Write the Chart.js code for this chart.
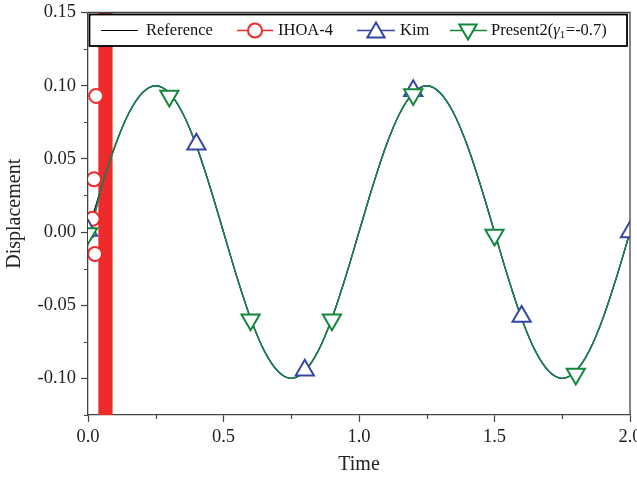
<!DOCTYPE html>
<html>
<head>
<meta charset="utf-8">
<script src="https://cdn.jsdelivr.net/npm/chart.js@4/dist/chart.umd.min.js"></script>
<style>
html,body{margin:0;padding:0;background:#fff;overflow:hidden;width:637px;height:477px;}
#wrap{position:absolute;left:0;top:0;width:650px;height:477px;}
</style>
</head>
<body>
<div id="wrap"><canvas id="c" width="650" height="477"></canvas></div>
<script>
// ---- data ----
const refTime = [0,0.05,0.10,0.15,0.20,0.25,0.30,0.35,0.40,0.45,0.50,0.55,0.60,0.65,0.70,0.75,0.80,0.85,0.90,0.95,
                 1.00,1.05,1.10,1.15,1.20,1.25,1.30,1.35,1.40,1.45,1.50,1.55,1.60,1.65,1.70,1.75,1.80,1.85,1.90,1.95,2.00];
const refDisp = [0,0.031,0.059,0.081,0.095,0.100,0.095,0.081,0.059,0.031,0,-0.031,-0.059,-0.081,-0.095,-0.100,-0.095,-0.081,-0.059,-0.031,
                 0,0.031,0.059,0.081,0.095,0.100,0.095,0.081,0.059,0.031,0,-0.031,-0.059,-0.081,-0.095,-0.100,-0.095,-0.081,-0.059,-0.031,0];

// start-up wiggles of the two methods
const kimStartTime = [0, 0.020, 0.004];
const kimStartDisp = [0.003, -0.004, 0.0025];
const presStartTime = [0, 0.030, 0.003];
const presStartDisp = [-0.006, 0.001, 0.002];

// markers
const ihoaMarkTime = [0.017, 0.022, 0.026, 0.030];
const ihoaMarkDisp = [0.009, 0.036, -0.015, 0.093];
// IHOA-4 diverging oscillation (values far outside the axis)
const ihoaBandTime = [0.040,0.0425,0.045,0.0475,0.050,0.0525,0.055,0.0575,0.060,0.0625,0.065,0.0675,0.070,0.0725,0.075,0.0775,0.080,0.0825,0.085,0.0875];
const ihoaBandDisp = [5,-5,5,-5,5,-5,5,-5,5,-5,5,-5,5,-5,5,-5,5,-5,5,-5];

const kimMarkTime = [0, 0.4, 0.8, 1.2, 1.6, 2.0];
const kimMarkDisp = [0.001, 0.060, -0.0945, 0.0965, -0.0577, 0];
const presMarkTime = [0, 0.3, 0.6, 0.9, 1.2, 1.5, 1.8];
const presMarkDisp = [-0.001, 0.093, -0.060, -0.060, 0.094, -0.002, -0.097];

const xTickValues = [0, 0.5, 1.0, 1.5, 2.0];
const xTickLabels = ['0.0','0.5','1.0','1.5','2.0'];
const yTickValues = [-0.10, -0.05, 0, 0.05, 0.10, 0.15];
const yTickLabels = ['-0.10','-0.05','0.00','0.05','0.10','0.15'];
const xMinorValues = [0.25, 0.75, 1.25, 1.75];
const yMinorValues = [-0.125, -0.075, -0.025, 0.025, 0.075, 0.125];

const seriesNames = ['Reference', 'IHOA-4', 'Kim', 'Present2'];

// ---- styling ----
const RED = '#ee2a2a', BLUE = '#3646a6', GREEN = '#13883c', BLACK = '#000';
const FONT = "'Liberation Serif','Times New Roman',serif";

function pts(t, d) { return t.map((v, i) => ({x: v, y: d[i]})); }

const kimLine = pts(kimStartTime, kimStartDisp).concat(pts(refTime.slice(1), refDisp.slice(1)));
const presLine = pts(presStartTime, presStartDisp).concat(pts(refTime.slice(1), refDisp.slice(1)));

const minorTicks = {
  id: 'minorTicks',
  afterDraw(chart) {
    const ctx = chart.ctx, xs = chart.scales.x, ys = chart.scales.y, a = chart.chartArea;
    ctx.save();
    ctx.strokeStyle = '#444'; ctx.lineWidth = 1.2;
    ctx.beginPath();
    yMinorValues.forEach(v => { const p = Math.round(ys.getPixelForValue(v)) + 0.5; ctx.moveTo(a.left - 4, p); ctx.lineTo(a.left, p); });
    xMinorValues.forEach(v => { const p = Math.round(xs.getPixelForValue(v)) + 0.5; ctx.moveTo(p, a.bottom); ctx.lineTo(p, a.bottom + 4); });
    ctx.stroke();
    ctx.strokeStyle = '#444'; ctx.lineWidth = 1.3;
    ctx.beginPath();
    ctx.moveTo(a.left, a.top); ctx.lineTo(a.right, a.top); ctx.lineTo(a.right, a.bottom);
    ctx.stroke();
    ctx.restore();
  }
};

const legendPlugin = {
  id: 'customLegend',
  afterDraw(chart) {
    const ctx = chart.ctx;
    const L = 89.5, T = 14.5, R = 627, B = 46;
    const cy = 30.5;
    ctx.save();
    ctx.fillStyle = '#fff';
    ctx.fillRect(L, T, R - L, B - T);
    ctx.strokeStyle = '#000'; ctx.lineWidth = 1.8;
    ctx.strokeRect(L, T, R - L, B - T);
    ctx.textBaseline = 'middle';
    const items = [
      {l1: 101, l2: 138, mx: 0, color: BLACK, style: null, tx: 146, text: seriesNames[0]},
      {l1: 237, l2: 273, mx: 255, color: RED, style: 'circle', r: 7, tx: 278, text: seriesNames[1]},
      {l1: 357, l2: 395, mx: 376, color: BLUE, style: 'triangle', r: 10, rot: 0, tx: 400, text: seriesNames[2]},
      {l1: 450, l2: 487, mx: 468, color: GREEN, style: 'triangle', r: 10, rot: 180, tx: 491, text: seriesNames[3] + '('}
    ];
    items.forEach(it => {
      ctx.strokeStyle = it.color; ctx.lineWidth = it.style ? 1.4 : 1.2;
      ctx.beginPath(); ctx.moveTo(it.l1, cy); ctx.lineTo(it.l2, cy); ctx.stroke();
      if (it.style) {
        ctx.fillStyle = '#fff'; ctx.strokeStyle = it.color; ctx.lineWidth = 2;
        Chart.helpers.drawPoint(ctx, {pointStyle: it.style, rotation: it.rot || 0, radius: it.r, borderWidth: 2}, it.mx, cy + (it.style === 'triangle' ? (it.rot ? -1 : 2) : 0));
      }
      ctx.fillStyle = '#111';
      ctx.font = '16.5px ' + FONT;
      ctx.fillText(it.text, it.tx, cy);
    });
    ctx.font = '16.5px ' + FONT;
    let x = 491 + ctx.measureText(seriesNames[3] + '(').width;
    ctx.font = 'italic 16.5px ' + FONT;
    ctx.fillText('γ', x, cy);
    x += ctx.measureText('γ').width;
    ctx.font = '11px ' + FONT;
    ctx.fillText('1', x, cy + 5);
    x += ctx.measureText('1').width + 0.5;
    ctx.font = '16.5px ' + FONT;
    ctx.fillText('=-0.7)', x, cy);
    ctx.restore();
  }
};

new Chart(document.getElementById('c'), {
  type: 'line',
  data: {
    datasets: [
      {label: seriesNames[0], data: pts(refTime, refDisp), borderColor: BLACK, borderWidth: 1.2, pointRadius: 0, cubicInterpolationMode: 'monotone', order: 6},
      {label: seriesNames[1] + ' band', data: pts(ihoaBandTime, ihoaBandDisp), borderColor: RED, borderWidth: 1.7, pointRadius: 0, tension: 0, order: 5},
      {label: seriesNames[2], data: kimLine, borderColor: BLUE, borderWidth: 1.4, pointRadius: 0, cubicInterpolationMode: 'monotone', order: 4},
      {label: seriesNames[3], data: presLine, borderColor: GREEN, borderWidth: 1.4, pointRadius: 0, cubicInterpolationMode: 'monotone', order: 3},
      {label: seriesNames[1] + ' marks', data: pts(ihoaMarkTime, ihoaMarkDisp), showLine: false, pointStyle: 'circle', pointRadius: 7, pointBorderWidth: 2, pointBorderColor: RED, pointBackgroundColor: '#fff', order: 2},
      {label: seriesNames[2] + ' marks', data: pts(kimMarkTime, kimMarkDisp), showLine: false, pointStyle: 'triangle', pointRadius: 10.5, pointBorderWidth: 2, pointBorderColor: BLUE, pointBackgroundColor: '#fff', order: 1},
      {label: seriesNames[3] + ' marks', data: pts(presMarkTime, presMarkDisp), showLine: false, pointStyle: 'triangle', pointRotation: 180, pointRadius: 10.5, pointBorderWidth: 2, pointBorderColor: GREEN, pointBackgroundColor: '#fff', order: 0}
    ]
  },
  options: {
    responsive: false,
    animation: false,
    events: [],
    layout: {padding: {top: 12, right: 20, left: 0, bottom: 0}},
    plugins: {legend: {display: false}, tooltip: {enabled: false}},
    scales: {
      x: {
        type: 'linear', min: 0, max: 2,
        afterBuildTicks: s => { s.ticks = xTickValues.map(v => ({value: v})); },
        afterFit: s => { s.height = 62; s.paddingLeft = 0; s.paddingRight = 0; },
        ticks: {callback: (v, i) => xTickLabels[i], font: {family: FONT, size: 18.5}, color: '#222', padding: 4, maxRotation: 0, autoSkip: false},
        grid: {drawOnChartArea: false, drawTicks: true, tickLength: 7, color: '#444', tickWidth: 1.2},
        border: {display: true, color: '#444', width: 1.3},
        title: {display: true, text: 'Time', font: {family: FONT, size: 20}, color: '#222', padding: {top: 0, bottom: 0}}
      },
      y: {
        type: 'linear', min: -0.125, max: 0.15,
        afterBuildTicks: s => { s.ticks = yTickValues.map(v => ({value: v})); },
        afterFit: s => { s.width = 88; s.paddingTop = 0; s.paddingBottom = 0; },
        ticks: {callback: (v, i) => yTickLabels[i], font: {family: FONT, size: 18.5}, color: '#222', padding: 5, autoSkip: false},
        grid: {drawOnChartArea: false, drawTicks: true, tickLength: 7, color: '#444', tickWidth: 1.2},
        border: {display: true, color: '#444', width: 1.3},
        title: {display: true, text: 'Displacement', font: {family: FONT, size: 20}, color: '#222', padding: {top: 3, bottom: 0}}
      }
    }
  },
  plugins: [minorTicks, legendPlugin]
});
</script>
</body>
</html>
